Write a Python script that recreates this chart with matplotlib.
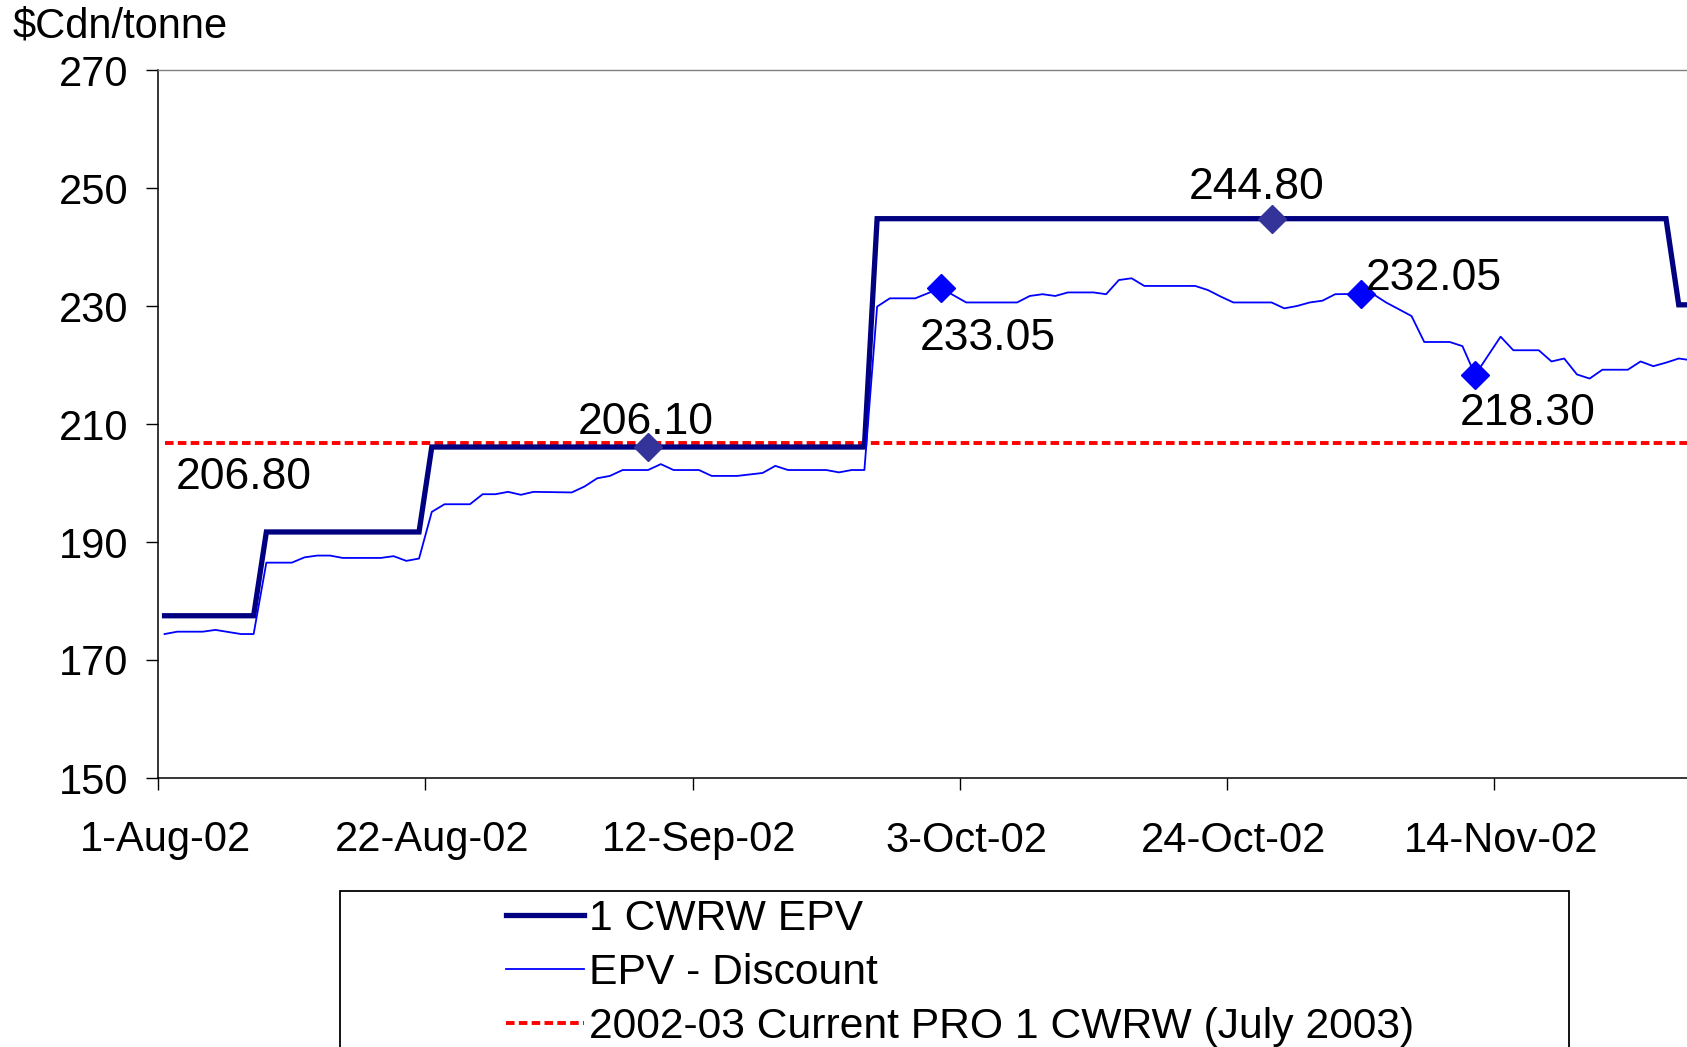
import pandas as pd
import matplotlib.pyplot as plt
import matplotlib.dates as mdates
import matplotlib.transforms as mtransforms
from matplotlib.patches import Rectangle

plt.rcParams['font.family'] = ['Liberation Sans', 'DejaVu Sans']
plt.rcParams['font.size'] = 30

# 1 CWRW EPV (weekly step price)
epv_dates = ["2002-08-01", "2002-08-08", "2002-08-09", "2002-08-21", "2002-08-22",
             "2002-09-25", "2002-09-26", "2002-11-27", "2002-11-28", "2002-11-29"]
epv_values = [177.5, 177.5, 191.7, 191.7, 206.1, 206.1, 244.8, 244.8, 230.2, 230.2]

# EPV - Discount
disc_dates = ["2002-08-01", "2002-08-02", "2002-08-04", "2002-08-05", "2002-08-07", "2002-08-08",
              "2002-08-09", "2002-08-11", "2002-08-12", "2002-08-13", "2002-08-14", "2002-08-15",
              "2002-08-18", "2002-08-19", "2002-08-20", "2002-08-21", "2002-08-22", "2002-08-23",
              "2002-08-25", "2002-08-26", "2002-08-27", "2002-08-28", "2002-08-29", "2002-08-30",
              "2002-09-02", "2002-09-03", "2002-09-04", "2002-09-05", "2002-09-06", "2002-09-08",
              "2002-09-09", "2002-09-10", "2002-09-12", "2002-09-13", "2002-09-15", "2002-09-17",
              "2002-09-18", "2002-09-19", "2002-09-22", "2002-09-23", "2002-09-24", "2002-09-25",
              "2002-09-26", "2002-09-27", "2002-09-29", "2002-10-01", "2002-10-03", "2002-10-07",
              "2002-10-08", "2002-10-09", "2002-10-10", "2002-10-11", "2002-10-13", "2002-10-14",
              "2002-10-15", "2002-10-16", "2002-10-17", "2002-10-21", "2002-10-22", "2002-10-23",
              "2002-10-24", "2002-10-27", "2002-10-28", "2002-10-29", "2002-10-30", "2002-10-31",
              "2002-11-01", "2002-11-03", "2002-11-04", "2002-11-05", "2002-11-07", "2002-11-08",
              "2002-11-10", "2002-11-11", "2002-11-12", "2002-11-14", "2002-11-15", "2002-11-17",
              "2002-11-18", "2002-11-19", "2002-11-20", "2002-11-21", "2002-11-22", "2002-11-24",
              "2002-11-25", "2002-11-26", "2002-11-27", "2002-11-28", "2002-11-29"]
disc_values = [174.4, 174.8, 174.8, 175.1, 174.4, 174.4,
               186.5, 186.5, 187.4, 187.7, 187.7, 187.3,
               187.3, 187.6, 186.8, 187.2, 195.1, 196.4,
               196.4, 198.1, 198.1, 198.5, 198.0, 198.5,
               198.4, 199.4, 200.8, 201.2, 202.2, 202.2,
               203.2, 202.2, 202.2, 201.2, 201.2, 201.7,
               202.9, 202.2, 202.2, 201.8, 202.2, 202.2,
               229.9, 231.3, 231.3, 233.05, 230.6, 230.6,
               231.7, 232.0, 231.7, 232.3, 232.3, 232.0,
               234.4, 234.7, 233.4, 233.4, 232.7, 231.6,
               230.6, 230.6, 229.6, 230.0, 230.6, 230.9,
               232.0, 232.05, 232.0, 230.6, 228.3, 223.9,
               223.9, 223.2, 218.3, 224.8, 222.5, 222.5,
               220.6, 221.1, 218.4, 217.7, 219.2, 219.2,
               220.6, 219.8, 220.4, 221.1, 220.8]

# 2002-03 Current PRO 1 CWRW (July 2003)
pro_dates = ["2002-08-01", "2002-11-30"]
pro_values = [206.80, 206.80]

# labelled points
epv_mark_dates = ["2002-09-08", "2002-10-27"]
epv_mark_values = [206.10, 244.80]
disc_mark_dates = ["2002-10-01", "2002-11-03", "2002-11-12"]
disc_mark_values = [233.05, 232.05, 218.30]

tick_dates = ["2002-08-01", "2002-08-22", "2002-09-12", "2002-10-03", "2002-10-24", "2002-11-14"]
y_ticks = [150, 170, 190, 210, 230, 250, 270]

noon = pd.Timedelta(hours=12)
def to_x(ds):
    return pd.to_datetime(ds) + noon

fig = plt.figure(figsize=(16.87, 10.47), dpi=100)
ax = fig.add_axes([158.2 / 1687, 1 - 778 / 1047, 1 - 158.2 / 1687, (778 - 70) / 1047])

ax.plot(to_x(pro_dates), pro_values, color='#FF0000', lw=2.8, linestyle=(0, (2.2, 1.1)),
        label='2002-03 Current PRO 1 CWRW (July 2003)', zorder=2)
ax.plot(to_x(epv_dates), epv_values, color='#000080', lw=3.8, solid_joinstyle='miter',
        label='1 CWRW EPV', zorder=3)
ax.plot(to_x(disc_dates), disc_values, color='#0000FF', lw=1.3, label='EPV - Discount', zorder=3)
ax.plot(to_x(epv_mark_dates), epv_mark_values, 'D', color='#333399', ms=14, zorder=4)
ax.plot(to_x(disc_mark_dates), disc_mark_values, 'D', color='#0000FF', ms=14, zorder=4)

# data labels (offsets in points)
labels = [
    (pro_dates[0], pro_values[0], 57, -25),
    (epv_mark_dates[0], epv_mark_values[0], -1.5, 18),
    (epv_mark_dates[1], epv_mark_values[1], -11, 22.5),
    (disc_mark_dates[0], disc_mark_values[0], 34, -36),
    (disc_mark_dates[1], disc_mark_values[1], 53, 11),
    (disc_mark_dates[2], disc_mark_values[2], 38, -28),
]
for d, v, dx, dy in labels:
    ax.annotate(f"{v:.2f}", xy=(to_x([d])[0], v), xytext=(dx, dy), textcoords='offset points',
                ha='center', va='center', fontsize=32, zorder=5)

start = pd.Timestamp("2002-08-01")
ax.set_xlim(start, start + pd.Timedelta(days=120.15))
ax.set_ylim(150, 270)
ax.set_yticks(y_ticks)
ax.set_xticks(pd.to_datetime(tick_dates))
ax.xaxis.set_major_formatter(mdates.DateFormatter('%-d-%b-%y'))

ax.tick_params(axis='both', direction='out', length=8.6, width=1, labelsize=30)
ax.tick_params(axis='y', pad=13)
ax.tick_params(axis='x', pad=22)
shift = mtransforms.ScaledTranslation(5 / 72, 0, fig.dpi_scale_trans)
for lab in ax.get_xticklabels():
    lab.set_transform(lab.get_transform() + shift)

for s in ['left', 'bottom']:
    ax.spines[s].set_linewidth(1.1)
ax.spines['right'].set_visible(False)
ax.spines['top'].set_color('#808080')
ax.spines['top'].set_linewidth(1.0)

fig.text(13 / 1687, 1 - 27 / 1047, '$Cdn/tonne', ha='left', va='center', fontsize=30)

# legend box
fig.patches.append(Rectangle((340 / 1687, -0.1), (1569 - 340) / 1687, (1047 - 891) / 1047 + 0.1,
                             transform=fig.transFigure, fill=False, ec='black', lw=1.3))
h, l = ax.get_legend_handles_labels()
order = [1, 2, 0]
fig.legend([h[i] for i in order], [l[i] for i in order], loc='upper left',
           bbox_to_anchor=(506 / 1687, 1 - 899 / 1047), frameon=False, borderpad=0,
           borderaxespad=0, handlelength=1.82, handletextpad=0.12, labelspacing=0.33, fontsize=30.7)

fig.savefig('out.png', dpi=100)
